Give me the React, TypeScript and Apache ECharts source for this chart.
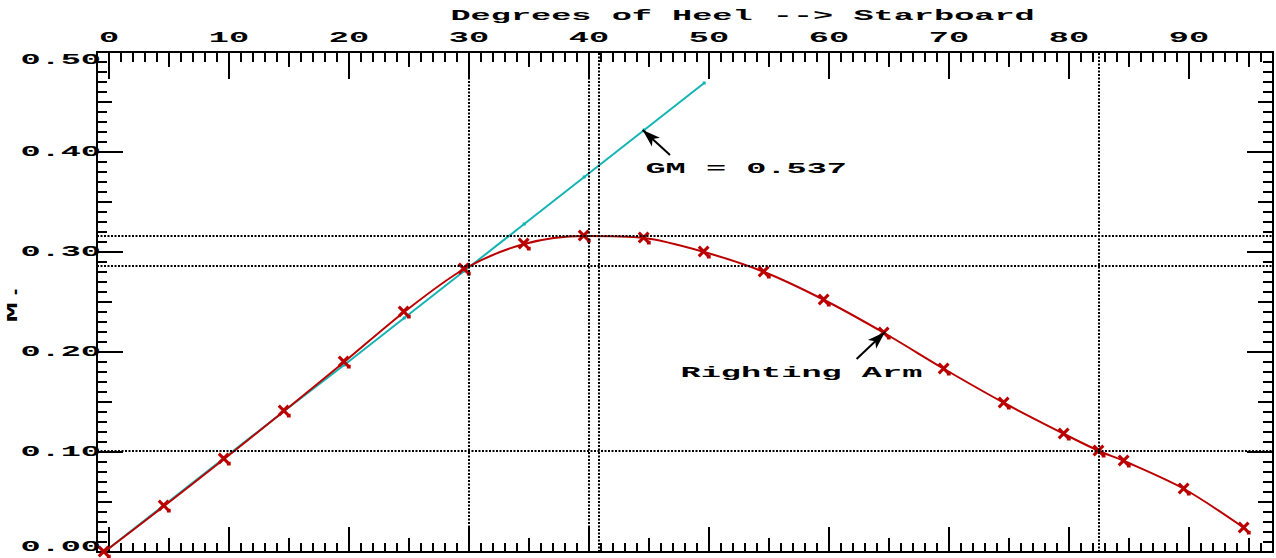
import React, { useEffect, useRef } from 'react';
import * as echarts from 'echarts';

// ---- texts ----
const titleText = 'Degrees of Heel --> Starboard';
const yAxisName = 'M.';
const gmLabel = 'GM = 0.537';
const rightingLabel = 'Righting Arm';

// ---- tick labels ----
const xTickValues = [0, 10, 20, 30, 40, 50, 60, 70, 80, 90];
const xTickLabels = ['0', '10', '20', '30', '40', '50', '60', '70', '80', '90'];
const yTickValues = [0, 0.1, 0.2, 0.3, 0.4, 0.5];
const yTickLabels = ['0.00', '0.10', '0.20', '0.30', '0.40', '0.50'];

// ---- series data (heel in degrees, arm in metres) ----
const rightingArmHeel = [0, 5, 10, 15, 20, 25, 30, 35, 40, 45, 50, 55, 60, 65, 70, 75, 80, 82.9, 85, 90, 95];
const rightingArmValues = [0, 0.046, 0.093, 0.141, 0.19, 0.24, 0.283, 0.308, 0.316, 0.314, 0.3, 0.28, 0.252, 0.219, 0.183, 0.149, 0.118, 0.101, 0.091, 0.063, 0.024];
const gmHeel = [0, 5, 10, 15, 20, 25, 30, 35, 40, 45, 50];
const gmValues = [0, 0.047, 0.094, 0.141, 0.187, 0.234, 0.281, 0.328, 0.375, 0.422, 0.469];

// ---- reference lines ----
const refHeels = [30, 40, 40.85, 82.5];
const refArms = [0.316, 0.286, 0.101];

// ---- annotations (heel, arm) ----
const gmArrow = [[46.75, 0.397], [44.47, 0.422]];
const rightingArrow = [[62.3, 0.193], [64.67, 0.22]];
const gmLabelAt = [53.1, 0.383];
const rightingLabelAt = [57.7, 0.179];
const titleAt = [52.8];

const RED = '#bb0000';
const CYAN = '#14b4b4';
const FONT = '"Liberation Mono", "DejaVu Sans Mono", monospace';
const STRETCH = 2.4;

const crossPath =
  'path://M0,2L2,0L11,9L9,11ZM9,0L11,2L2,11L0,9ZM8.5,8.5L12,8.5L12,12L8.5,12Z';

function xTickAxis(position: string, step: number, len: number) {
  return {
    type: 'value',
    position,
    min: -1,
    max: 97,
    minInterval: step,
    maxInterval: step,
    axisLine: { show: false, onZero: false },
    axisTick: { show: true, inside: true, length: len, lineStyle: { color: '#000', width: 2 } },
    axisLabel: { show: false },
    splitLine: { show: false },
  };
}

function yTickAxis(position: string, step: number, len: number) {
  return {
    type: 'value',
    position,
    min: 0,
    max: 0.5,
    interval: step,
    axisLine: { show: false, onZero: false },
    axisTick: { show: true, inside: true, length: len, lineStyle: { color: '#000', width: 2 } },
    axisLabel: { show: false },
    splitLine: { show: false },
  };
}

function stretchedText(text: string, x: number, y: number, align: string, extra: any = {}) {
  return {
    type: 'text',
    x,
    y,
    scaleX: STRETCH,
    silent: true,
    z: 100,
    ...extra,
    style: {
      text,
      fill: '#000',
      fontFamily: FONT,
      fontWeight: 'bold',
      fontSize: 14,
      align,
      verticalAlign: 'middle',
    },
  };
}

export default function App() {
  const ref = useRef<HTMLDivElement>(null);

  useEffect(() => {
    const chart = echarts.init(ref.current!, null, { renderer: 'svg' });

    const option: any = {
      animation: false,
      backgroundColor: '#ffffff',
      grid: {
        left: 97,
        top: 52,
        width: 1176,
        height: 500,
        show: true,
        borderColor: '#000',
        borderWidth: 2,
        backgroundColor: 'transparent',
      },
      xAxis: [
        xTickAxis('top', 10, 27),
        xTickAxis('top', 5, 15),
        xTickAxis('top', 1, 10),
        xTickAxis('bottom', 10, 25),
        xTickAxis('bottom', 5, 14),
        xTickAxis('bottom', 1, 9),
        { type: 'value', min: -0.6, max: 97.4, show: false, axisLine: { onZero: false } },
      ],
      yAxis: [
        yTickAxis('left', 0.1, 26),
        yTickAxis('left', 0.05, 15),
        yTickAxis('left', 0.01, 10),
        yTickAxis('right', 0.1, 26),
        yTickAxis('right', 0.05, 15),
        yTickAxis('right', 0.01, 10),
      ],
      series: [
        {
          name: 'Reference',
          type: 'line',
          xAxisIndex: 0,
          yAxisIndex: 0,
          data: [],
          silent: true,
          markLine: {
            silent: true,
            precision: 4,
            symbol: ['none', 'none'],
            label: { show: false },
            lineStyle: { type: [2, 1.5], color: '#000', width: 2 },
            data: [
              ...refHeels.map((v) => ({ xAxis: v })),
              ...refArms.map((v) => ({ yAxis: v })),
            ],
          },
        },
        {
          name: 'Arrows',
          type: 'line',
          xAxisIndex: 0,
          yAxisIndex: 0,
          data: [],
          silent: true,
          markLine: {
            silent: true,
            precision: 4,
            symbol: ['none', 'arrow'],
            symbolSize: [9, 18],
            label: { show: false },
            lineStyle: { type: 'solid', color: '#000', width: 2 },
            data: [
              [{ coord: gmArrow[0] }, { coord: gmArrow[1] }],
              [{ coord: rightingArrow[0] }, { coord: rightingArrow[1] }],
            ],
          },
        },
        {
          name: 'GM',
          type: 'line',
          xAxisIndex: 6,
          yAxisIndex: 0,
          data: gmHeel.map((h, i) => [h, gmValues[i]]),
          symbol: 'rect',
          symbolSize: 3,
          showAllSymbol: true,
          itemStyle: { color: CYAN },
          lineStyle: { color: CYAN, width: 2 },
          z: 3,
        },
        {
          name: 'Righting Arm',
          type: 'line',
          xAxisIndex: 6,
          yAxisIndex: 0,
          smooth: 0.3,
          data: rightingArmHeel.map((h, i) => [h, rightingArmValues[i]]),
          symbol: crossPath,
          symbolSize: 13,
          showAllSymbol: true,
          itemStyle: { color: RED },
          lineStyle: { color: RED, width: 2 },
          z: 4,
        },
      ],
    };

    chart.setOption(option);

    const px = (v: number) => chart.convertToPixel({ xAxisIndex: 0 }, v) as number;
    const py = (v: number) => chart.convertToPixel({ yAxisIndex: 0 }, v) as number;
    const yTop = py(0.5);
    const yBottom = py(0);

    const graphics: any[] = [];
    graphics.push(stretchedText(titleText, px(titleAt[0]), 16, 'center'));
    xTickValues.forEach((v, i) => {
      graphics.push(stretchedText(xTickLabels[i], px(v), 38, 'center'));
    });
    yTickValues.forEach((v, i) => {
      const y = Math.min(Math.max(py(v), yTop + 8), yBottom - 5);
      graphics.push(stretchedText(yTickLabels[i], px(-1) + 4, y, 'right'));
    });
    graphics.push(stretchedText(yAxisName, 13, (yTop + yBottom) / 2, 'center', { rotation: Math.PI / 2 }));
    graphics.push(stretchedText(gmLabel, px(gmLabelAt[0]), py(gmLabelAt[1]), 'center'));
    graphics.push(stretchedText(rightingLabel, px(rightingLabelAt[0]), py(rightingLabelAt[1]), 'center'));

    chart.setOption({ graphic: graphics });

    return () => chart.dispose();
  }, []);

  return (
    <div
      ref={ref}
      style={{ position: 'fixed', left: 0, top: 0, width: 1276, height: 558, background: '#fff' }}
    />
  );
}
